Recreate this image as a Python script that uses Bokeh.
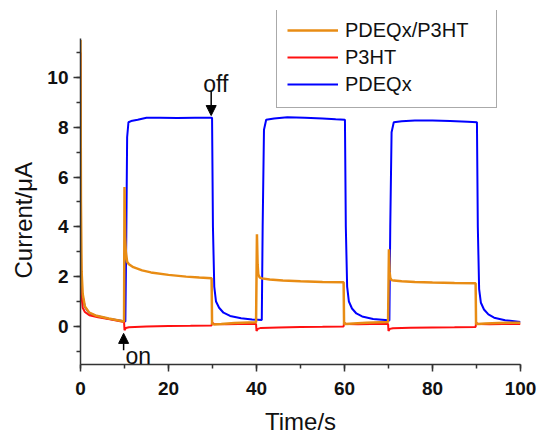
import math
from bokeh.plotting import figure
from bokeh.models import (Range1d, SingleIntervalTicker, Legend, LegendItem,
                          Arrow, NormalHead, Label, Title)
from bokeh.embed import file_html
from bokeh.resources import INLINE

# ---------------- data ----------------
t_orange = [0, 0.1, 0.25, 0.5, 1, 2, 3.4, 6.4, 9.9,
            10.0, 10.15, 10.3, 10.6, 11, 12, 14, 16, 20, 24, 27, 29.8,
            29.9, 30.3, 32, 35, 39.9,
            40.1, 40.25, 40.4, 40.7, 41.2, 43, 46, 50, 55, 59.8,
            59.9, 60.3, 62, 65, 69.9,
            70.1, 70.25, 70.4, 70.7, 71.2, 73, 76, 80, 85, 89.8,
            89.9, 90.3, 92, 95, 100]
v_orange = [11.5, 5, 2.2, 1.3, 0.8, 0.55, 0.44, 0.32, 0.2,
            5.6, 3.6, 3.0, 2.6, 2.5, 2.38, 2.25, 2.17, 2.07, 2.0, 1.96, 1.93,
            0.1, 0.08, 0.1, 0.14, 0.17,
            3.7, 2.5, 2.1, 1.97, 1.93, 1.88, 1.84, 1.81, 1.78, 1.77,
            0.1, 0.1, 0.12, 0.15, 0.18,
            3.1, 2.2, 1.95, 1.86, 1.84, 1.81, 1.78, 1.76, 1.74, 1.73,
            0.1, 0.1, 0.12, 0.14, 0.15]

t_red = [0, 0.1, 0.25, 0.5, 1, 2, 4, 7, 9.9,
         10.0, 10.3, 11, 15, 20, 25, 29.8,
         29.9, 30.3, 33, 36, 39.9,
         40.0, 40.3, 41, 45, 50, 55, 59.8,
         59.9, 60.3, 63, 66, 69.9,
         70.0, 70.3, 71, 75, 80, 85, 89.8,
         89.9, 90.3, 93, 96, 100]
v_red = [11, 3, 1.2, 0.75, 0.58, 0.45, 0.37, 0.28, 0.18,
         -0.15, -0.06, -0.03, 0.0, 0.02, 0.03, 0.04,
         0.15, 0.1, 0.09, 0.1, 0.1,
         -0.18, -0.1, -0.06, -0.04, -0.02, -0.01, 0.0,
         0.15, 0.1, 0.09, 0.1, 0.1,
         -0.18, -0.1, -0.07, -0.05, -0.04, -0.03, -0.02,
         0.15, 0.1, 0.09, 0.1, 0.1]

t_blue = [0, 0.1, 0.5, 1, 2, 3.4, 6.4, 10.2,
          10.4, 10.6, 10.9, 11.5, 13, 15, 18, 22, 26, 29.9,
          30.1, 30.4, 30.8, 31.5, 32.5, 34, 36.5, 39, 41.2,
          41.4, 41.7, 42.2, 44, 47, 51, 55, 58, 60.1,
          60.3, 60.6, 61, 61.7, 62.7, 64, 66.5, 69.9, 70.2,
          70.4, 70.7, 71.2, 73, 76, 80, 84, 88, 90.1,
          90.3, 90.6, 91, 91.7, 92.7, 94, 96.5, 100]
v_blue = [3.6, 1.6, 1.2, 0.78, 0.53, 0.43, 0.31, 0.2,
          3.5, 7.6, 8.2, 8.25, 8.3, 8.38, 8.38, 8.37, 8.38, 8.38,
          4.0, 1.6, 1.0, 0.75, 0.55, 0.42, 0.33, 0.28, 0.26,
          4.0, 7.9, 8.3, 8.35, 8.4, 8.38, 8.35, 8.32, 8.3,
          4.0, 1.6, 1.0, 0.72, 0.52, 0.4, 0.3, 0.25, 0.24,
          4.0, 7.8, 8.2, 8.24, 8.27, 8.27, 8.25, 8.22, 8.2,
          4.0, 1.5, 0.95, 0.68, 0.48, 0.35, 0.25, 0.18]

series_labels = ["PDEQx/P3HT", "P3HT", "PDEQx"]
x_title = "Time/s"
y_title = "Current/\u03bcA"

# axis extents (data units)
x_lo, x_hi = 0, 100
y_lo, y_hi = -1.53, 11.56
y_view_hi = 12.69          # extra room above the axis for the legend

# annotation anchors (data units)
off_text = (27.9, 9.75)
off_arrow = (29.7, 9.45, 8.47)
on_text = (10.2, -1.17)
on_arrow = (9.8, -0.96, -0.28)

ORANGE = "#E88C14"
RED = "#FF1010"
BLUE = "#0000FF"
FONT = "Liberation Sans"
INK = "#111111"

p = figure(width=540, height=437, output_backend="svg", toolbar_location=None,
           x_range=Range1d(x_lo, x_hi), y_range=Range1d(y_lo, y_view_hi),
           min_border_left=80, min_border_right=20,
           min_border_top=10, min_border_bottom=73)
p.outline_line_color = None
p.xgrid.visible = False
p.ygrid.visible = False
p.background_fill_color = "white"
p.border_fill_color = "white"

r_blue = p.line(t_blue, v_blue, line_color=BLUE, line_width=2)
r_red = p.line(t_red, v_red, line_color=RED, line_width=2)
r_orange = p.line(t_orange, v_orange, line_color=ORANGE, line_width=2.5)

p.xaxis.ticker = SingleIntervalTicker(interval=20, num_minor_ticks=2)
p.yaxis.ticker = SingleIntervalTicker(interval=2, num_minor_ticks=2)
p.yaxis.bounds = (y_lo, y_hi)
for ax in (p.xaxis, p.yaxis):
    ax.axis_line_color = "#333333"
    ax.axis_line_width = 1.5
    ax.major_tick_line_color = "#333333"
    ax.minor_tick_line_color = "#333333"
    ax.major_tick_line_width = 1.5
    ax.minor_tick_line_width = 1.5
    ax.major_tick_out = 7
    ax.major_tick_in = 0
    ax.minor_tick_out = 4
    ax.minor_tick_in = 0
    ax.major_label_text_font = FONT
    ax.major_label_text_font_style = "bold"
    ax.major_label_text_font_size = "19px"
    ax.major_label_text_color = INK

p.xaxis.major_label_standoff = 10
p.yaxis.major_label_standoff = 5
p.xaxis.axis_label = x_title
p.xaxis.axis_label_text_font = FONT
p.xaxis.axis_label_text_font_style = "normal"
p.xaxis.axis_label_text_font_size = "24px"
p.xaxis.axis_label_standoff = 10
p.xaxis.axis_label_text_color = INK

ytitle = Title(text=y_title, align="left", offset=86, vertical_align="middle",
               text_font=FONT, text_font_size="24px", text_font_style="normal",
               text_color=INK, standoff=14)
p.add_layout(ytitle, "left")

# on / off markers
p.add_layout(Label(x=off_text[0], y=off_text[1], text="off", text_font=FONT,
                   text_font_size="23px", text_baseline="alphabetic",
                   text_color=INK))
p.add_layout(Arrow(end=NormalHead(size=10, fill_color="black", line_color="black"),
                   x_start=off_arrow[0], y_start=off_arrow[1],
                   x_end=off_arrow[0], y_end=off_arrow[2],
                   line_width=1.5, line_color="black"))
p.add_layout(Label(x=on_text[0], y=on_text[1], text="on", text_font=FONT,
                   text_font_size="23px", text_baseline="alphabetic",
                   text_color=INK))
p.add_layout(Arrow(end=NormalHead(size=10, fill_color="black", line_color="black"),
                   x_start=on_arrow[0], y_start=on_arrow[1],
                   x_end=on_arrow[0], y_end=on_arrow[2],
                   line_width=1.5, line_color="black"))

legend = Legend(items=[LegendItem(label=series_labels[0], renderers=[r_orange]),
                       LegendItem(label=series_labels[1], renderers=[r_red]),
                       LegendItem(label=series_labels[2], renderers=[r_blue])],
                location=(196, 256))
legend.border_line_color = "#555555"
legend.border_line_width = 1.5
legend.background_fill_alpha = 1
legend.label_text_font = FONT
legend.label_text_font_size = "20px"
legend.label_text_color = INK
legend.glyph_width = 51
legend.glyph_height = 26
legend.label_height = 26
legend.spacing = 1
legend.padding = 10
legend.label_standoff = 7
legend.label_width = 141
legend.margin = 0
p.add_layout(legend)

open("out.html", "w").write(file_html(p, INLINE))
